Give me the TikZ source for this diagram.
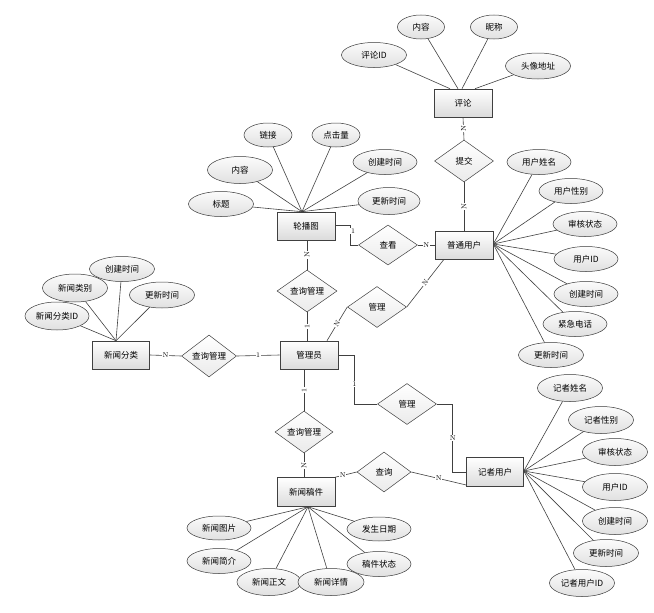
\documentclass[tikz,border=0pt]{standalone}
\usepackage{fontspec}
\newfontfamily\cjk{Noto Sans CJK SC}
\usetikzlibrary{shapes.geometric}
\begin{document}
\begin{tikzpicture}[x=1pt,y=-1pt,
  txt/.style={font=\cjk\fontsize{8.5}{10}\selectfont},
  ent/.style={txt,rectangle,draw=gray!50!black,line width=0.6pt,top color=white,bottom color=gray!28,minimum width=58pt,minimum height=28pt,inner sep=1pt},
  attr/.style={txt,ellipse,draw=gray!45!black,line width=0.5pt,top color=gray!3,bottom color=gray!24,minimum width=64pt,minimum height=25pt,inner sep=0pt},
  rel/.style={txt,diamond,draw=gray!50!black,line width=0.5pt,top color=white,bottom color=gray!16,minimum width=59pt,minimum height=41pt,inner sep=0pt},
  con/.style={draw=black!75,line width=0.6pt},
  lbl/.style={fill=white,inner sep=0.6pt,font=\fontsize{7}{7}\selectfont}]
\useasboundingbox (0,0) rectangle (654,613);

% ---- entities and relations
\node[ent] (pl) at (463,103) {评论};
\node[rel,minimum height=42pt] (tj) at (464,161) {提交};
\node[ent] (pt) at (464,245) {普通用户};
\node[ent] (lb) at (306,226) {轮播图};
\node[rel,minimum height=40pt] (ck) at (388,245) {查看};
\node[rel] (gl1) at (377,307) {管理};
\node[rel,minimum width=60pt,minimum height=42pt] (cg1) at (307,291) {查询管理};
\node[ent] (gly) at (309,355) {管理员};
\node[ent,minimum width=57pt] (xfl) at (121,355) {新闻分类};
\node[rel,minimum width=55pt,minimum height=42pt] (cg2) at (209,356) {查询管理};
\node[rel] (gl2) at (407,404) {管理};
\node[ent,minimum width=57pt,minimum height=29pt] (jz) at (495,472) {记者用户};
\node[rel,minimum width=54pt,minimum height=40pt] (cx) at (384,472) {查询};
\node[rel,minimum width=58pt,minimum height=42pt] (cg3) at (304,432) {查询管理};
\node[ent,minimum height=29pt] (xgj) at (306,492) {新闻稿件};

% ---- attributes of 评论
\node[attr,minimum width=65pt] (pl1) at (374,55) {评论ID};
\node[attr,minimum width=47pt,minimum height=24pt] (pl2) at (421,27) {内容};
\node[attr,minimum width=47pt,minimum height=24pt] (pl3) at (494,27) {昵称};
\node[attr,minimum width=65pt,minimum height=26pt] (pl4) at (538,66) {头像地址};

% ---- attributes of 普通用户
\node[attr] (pt1) at (539,162) {用户姓名};
\node[attr] (pt2) at (571,191) {用户性别};
\node[attr] (pt3) at (585,224) {审核状态};
\node[attr] (pt4) at (586,259) {用户ID};
\node[attr] (pt5) at (586,294) {创建时间};
\node[attr] (pt6) at (575,324) {紧急电话};
\node[attr,minimum width=65pt] (pt7) at (551,355) {更新时间};

% ---- attributes of 轮播图
\node[attr,minimum width=48pt,minimum height=24pt] (lb1) at (268,135) {链接};
\node[attr,minimum width=48pt,minimum height=24pt] (lb2) at (336,135) {点击量};
\node[attr,minimum width=65pt,minimum height=27pt] (lb3) at (240,170) {内容};
\node[attr] (lb4) at (385,162) {创建时间};
\node[attr,minimum width=65pt] (lb5) at (221,204) {标题};
\node[attr,minimum width=62pt,minimum height=27pt] (lb6) at (389,201) {更新时间};

% ---- attributes of 新闻分类
\node[attr,minimum width=65pt] (xf1) at (122,269) {创建时间};
\node[attr,minimum width=65pt,minimum height=28pt] (xf2) at (75,288) {新闻类别};
\node[attr,minimum width=65pt,minimum height=26pt] (xf3) at (162,295) {更新时间};
\node[attr,minimum height=28pt] (xf4) at (57,316) {新闻分类ID};

% ---- attributes of 记者用户
\node[attr,minimum width=65pt,minimum height=27pt] (jz1) at (570,388) {记者姓名};
\node[attr,minimum width=65pt,minimum height=27pt] (jz2) at (601,420) {记者性别};
\node[attr,minimum width=65pt,minimum height=27pt] (jz3) at (615,452) {审核状态};
\node[attr,minimum width=65pt,minimum height=27pt] (jz4) at (615,487) {用户ID};
\node[attr,minimum width=65pt,minimum height=27pt] (jz5) at (615,521) {创建时间};
\node[attr,minimum width=65pt,minimum height=27pt] (jz6) at (606,553) {更新时间};
\node[attr,minimum width=65pt,minimum height=27pt] (jz7) at (582,583) {记者用户ID};

% ---- attributes of 新闻稿件
\node[attr,minimum height=24pt] (xg1) at (219,528) {新闻图片};
\node[attr,minimum height=24pt] (xg2) at (379,529) {发生日期};
\node[attr] (xg3) at (219,561) {新闻简介};
\node[attr] (xg4) at (379,564) {稿件状态};
\node[attr,minimum height=27pt] (xg5) at (269,582) {新闻正文};
\node[attr,minimum width=66pt,minimum height=27pt] (xg6) at (331,582) {新闻详情};

% ---- attribute connectors
\foreach \a/\s in {pl1/-13,pl2/-5,pl3/-1,pl4/12}
  \draw[con] (\a) -- ([xshift=\s pt]pl.north);
\foreach \a in {pt1,pt2,pt3,pt4,pt5,pt6,pt7}
  \draw[con] (\a) -- ([yshift=1pt]pt.east);
\foreach \a in {lb1,lb2,lb3,lb4,lb5,lb6}
  \draw[con] (\a) -- ([xshift=-4pt]lb.north);
\foreach \a in {xf1,xf2,xf3,xf4}
  \draw[con] (\a) -- ([xshift=-5pt]xfl.north);
\foreach \a in {jz1,jz2,jz3,jz4,jz5,jz6,jz7}
  \draw[con] (\a) -- ([yshift=1pt]jz.east);
\foreach \a in {xg1,xg2,xg3,xg4,xg5,xg6}
  \draw[con] (\a) -- ([xshift=2pt]xgj.south);

% ---- relationship connectors
\draw[con] (pl.south) -- node[lbl,rotate=90]{N} (tj.north);
\draw[con] (tj.south) -- node[lbl,rotate=90]{N} (pt.north);
\draw[con] ([yshift=1pt]lb.east) -- ++(15,0) |- (ck.west);
\node[lbl] (one1) at (353,231) {1};
\draw[con] (ck.east) -- node[lbl]{N} (pt.west);
\draw[con] (lb.south -| cg1.north) -- node[lbl,rotate=90]{N} (cg1.north);
\draw[con] (cg1.south) -- node[lbl,rotate=90]{1} (cg1.south |- gly.north);
\draw[con] ([xshift=18pt]gly.north) -- node[lbl,sloped]{N} (gl1.west);
\draw[con] (gl1.east) -- node[lbl,sloped]{N} ([xshift=-20pt]pt.south);
\draw[con] (xfl.east) -- node[lbl]{N} (cg2.west);
\draw[con] (cg2.east) -- node[lbl]{1} (gly.west);
\draw[con] (gly.east) -- ++(16,0) |- node[lbl,pos=0.3]{1} (gl2.west);
\draw[con] (gl2.east) -- ++(16,0) |- node[lbl,pos=0.25]{N} (jz.west);
\draw[con] (xgj.north east) -- node[lbl,pos=0.35]{N} (cx.west);
\draw[con] (cx.east) -- node[lbl]{N} ([yshift=-13pt]jz.west);
\draw[con] (cg3.north |- gly.south) -- node[lbl,rotate=90]{1} (cg3.north);
\draw[con] (cg3.south) -- node[lbl,rotate=90]{N} (cg3.south |- xgj.north);
\end{tikzpicture}
\end{document}
